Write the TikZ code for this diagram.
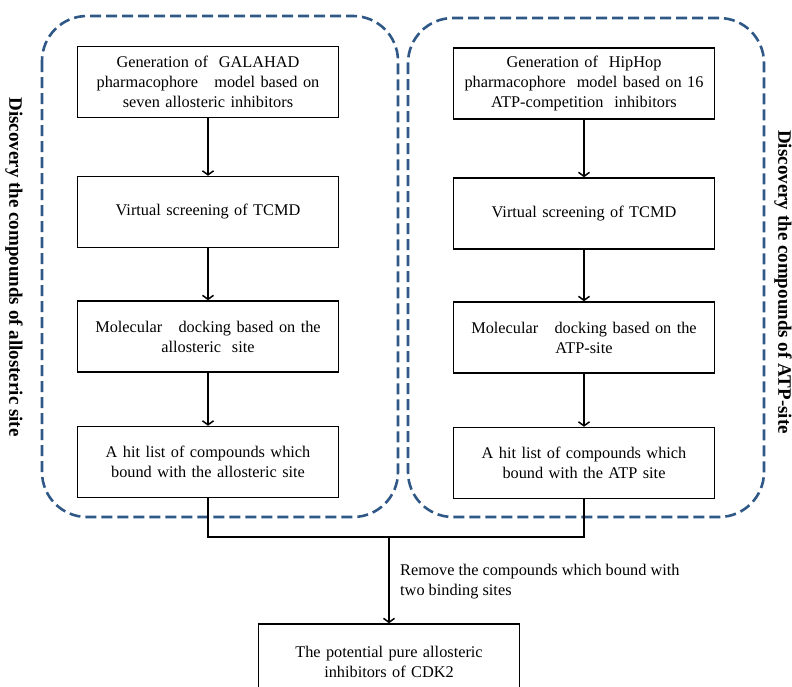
\documentclass[tikz,border=0pt]{standalone}
\usepackage{fontspec}
\setmainfont{Liberation Serif}
\usetikzlibrary{arrows.meta}
\definecolor{contblue}{RGB}{47,88,135}
\begin{document}
\begin{tikzpicture}[x=1pt,y=-1pt,
  every node/.style={font=\fontsize{16.3}{20}\selectfont},
  stepbox/.style={draw, line width=1.5pt, minimum width=261pt, minimum height=71pt,
    text width=252pt, align=center, inner sep=0pt},
  arr/.style={line width=1.5pt, -{Straight Barb[length=4pt,width=11pt]}},
  link/.style={line width=1.5pt},
  cont/.style={draw=contblue, line width=2.6pt, dash pattern=on 11pt off 5pt, rounded corners=45pt},
  side/.style={font=\bfseries\fontsize{19}{22}\selectfont, rotate=-90, inner sep=0pt}]
\useasboundingbox (0,0) rectangle (792,686);
\clip (0,0) rectangle (792,686);
\fill[white] (0,0) rectangle (792,686);

% containers
\draw[cont] (42,16) rectangle (398,517);
\draw[cont] (408,18) rectangle (764,517);

% left column
\node[stepbox] (L1) at (208,82) {Generation of\ \ GALAHAD\\pharmacophore\ \ \ model based on\\seven allosteric\ inhibitors};
\node[stepbox] (L2) at (208,212) {Virtual screening of TCMD};
\node[stepbox] (L3) at (208,336.5) {Molecular\ \ \ docking based on the\\allosteric\ \ site};
\node[stepbox] (L4) at (208,462) {A hit list of compounds which\\bound with the allosteric\ site};

% right column
\node[stepbox] (R1) at (584,83.5) {Generation of\ \ HipHop\\pharmacophore\ \ model based on 16\\ATP-competition\ \ inhibitors};
\node[stepbox] (R2) at (584,213.5) {Virtual screening of TCMD};
\node[stepbox] (R3) at (584,337.5) {Molecular\ \ \ docking based on the\\ATP-site};
\node[stepbox] (R4) at (584,463) {A hit list of compounds which\\bound with the ATP site};

% bottom
\node[stepbox, minimum height=76pt] (B) at (389,662) {The potential pure allosteric\\inhibitors of CDK2};

\draw[arr] (L1) -- (L2);
\draw[arr] (L2) -- (L3);
\draw[arr] (L3) -- (L4);
\draw[arr] (R1) -- (R2);
\draw[arr] (R2) -- (R3);
\draw[arr] (R3) -- (R4);

\coordinate (j) at (389,537);
\draw[link] (L4.south) |- (j) -| (R4.south);
\draw[arr] (j) -- (B.north);

\node[anchor=north west, inner sep=0pt, align=left] (lab) at (400,564)
  {Remove the compounds which bound with\\two binding sites};

% side labels
\node[side] (sl) at (14,267) {Discovery the compounds of allosteric site};
\node[side] (sr) at (783,282) {Discovery the compounds of ATP-site};
\end{tikzpicture}
\end{document}
